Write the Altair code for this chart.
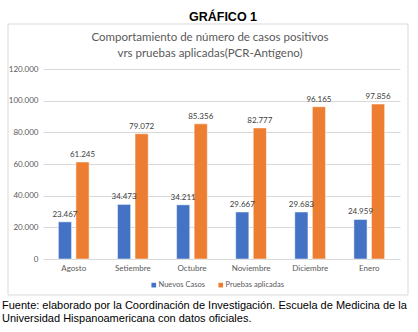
import altair as alt
import pandas as pd

meses = ["Agosto", "Setiembre", "Octubre", "Noviembre", "Diciembre", "Enero"]
nuevos_casos = [23467, 34473, 34211, 29667, 29683, 24959]
pruebas = [61245, 79072, 85356, 82777, 96165, 97856]
series = ["Nuevos Casos", "Pruebas aplicadas"]
colores = ["#4472C4", "#ED7D31"]
y_ticks = [0, 20000, 40000, 60000, 80000, 100000, 120000]

rows = []
for m, a, b in zip(meses, nuevos_casos, pruebas):
    rows.append({"mes": m, "serie": series[0], "valor": a})
    rows.append({"mes": m, "serie": series[1], "valor": b})
df = pd.DataFrame(rows)
df["etiqueta"] = df["valor"].map(lambda v: f"{v:,}".replace(",", "."))

W, H = 357, 190
L, T = 43, 69

x_enc = alt.X("mes:N", sort=meses, title=None,
              scale=alt.Scale(paddingInner=0.48, paddingOuter=0.26),
              axis=alt.Axis(labelAngle=0, ticks=False, domain=False, labelPadding=5,
                            labelFont="Lato", labelFontSize=8, labelColor="#595959"))
xo_enc = alt.XOffset("serie:N", sort=series, scale=alt.Scale(paddingInner=0.25))
y_enc = alt.Y("valor:Q", title=None,
              scale=alt.Scale(domain=[0, 120000]),
              axis=alt.Axis(values=y_ticks, ticks=False, domain=False, labelPadding=5,
                            labelExpr="replace(format(datum.value, ','), ',', '.')",
                            labelFont="Lato", labelFontSize=8, labelColor="#595959",
                            gridColor="#d9d9d9", gridWidth=1))

base = alt.Chart(df)

bars = base.mark_bar(stroke="#ffffff", strokeWidth=0.5).encode(
    x=x_enc, xOffset=xo_enc, y=y_enc,
    color=alt.Color("serie:N", sort=series, title=None,
                    scale=alt.Scale(domain=series, range=colores),
                    legend=alt.Legend(orient="none", legendX=150 - L, legendY=281 - T,
                                      direction="horizontal", symbolType="square",
                                      symbolSize=22, symbolStrokeWidth=0,
                                      labelFont="Lato", labelFontSize=7.5,
                                      labelColor="#595959", columnPadding=12,
                                      symbolOffset=0, labelOffset=1, padding=0)),
)

labels = base.mark_text(dy=-7, font="Lato", fontSize=8, color="#404040").encode(
    x=x_enc, xOffset=xo_enc, y=y_enc, text="etiqueta:N",
)

one = alt.Data(values=[{"k": 1}])

frame = alt.Chart(one).mark_rect(fillOpacity=0, stroke="#d9d9d9", strokeWidth=1).encode(
    x=alt.value(8 - L), x2=alt.value(408 - L), y=alt.value(24 - T), y2=alt.value(295 - T)
)

def txt(s, x, y, **kw):
    return alt.Chart(one).mark_text(**kw).encode(
        x=alt.value(x - L), y=alt.value(y - T), text=alt.value(s)
    )

titulo = txt("GRÁFICO 1", 223, 17, font="Liberation Sans", fontSize=12.5,
             fontWeight="bold", color="#000000", align="center", baseline="middle")
t1 = txt("Comportamiento de  número de casos positivos", 210, 38, font="Lato",
         fontSize=11.5, color="#595959", align="center", baseline="middle")
t2 = txt("vrs pruebas aplicadas(PCR-Antígeno)", 210, 54, font="Lato",
         fontSize=11.5, color="#595959", align="center", baseline="middle")
f1 = txt("Fuente: elaborado por la Coordinación de Investigación. Escuela de Medicina de la",
         2, 306, font="Liberation Sans", fontSize=11, color="#000000",
         align="left", baseline="middle")
f2 = txt("Universidad Hispanoamericana con datos oficiales.",
         2, 319, font="Liberation Sans", fontSize=11, color="#000000",
         align="left", baseline="middle")

chart = alt.layer(frame, bars, labels, titulo, t1, t2, f1, f2).properties(
    width=W, height=H,
    autosize=alt.AutoSizeParams(type="none"),
    padding={"left": L, "top": T, "right": 418 - L - W, "bottom": 332 - T - H},
    background="#ffffff",
).configure_view(stroke=None)

chart.save("out.html", embed_options={"renderer": "svg", "actions": False})
